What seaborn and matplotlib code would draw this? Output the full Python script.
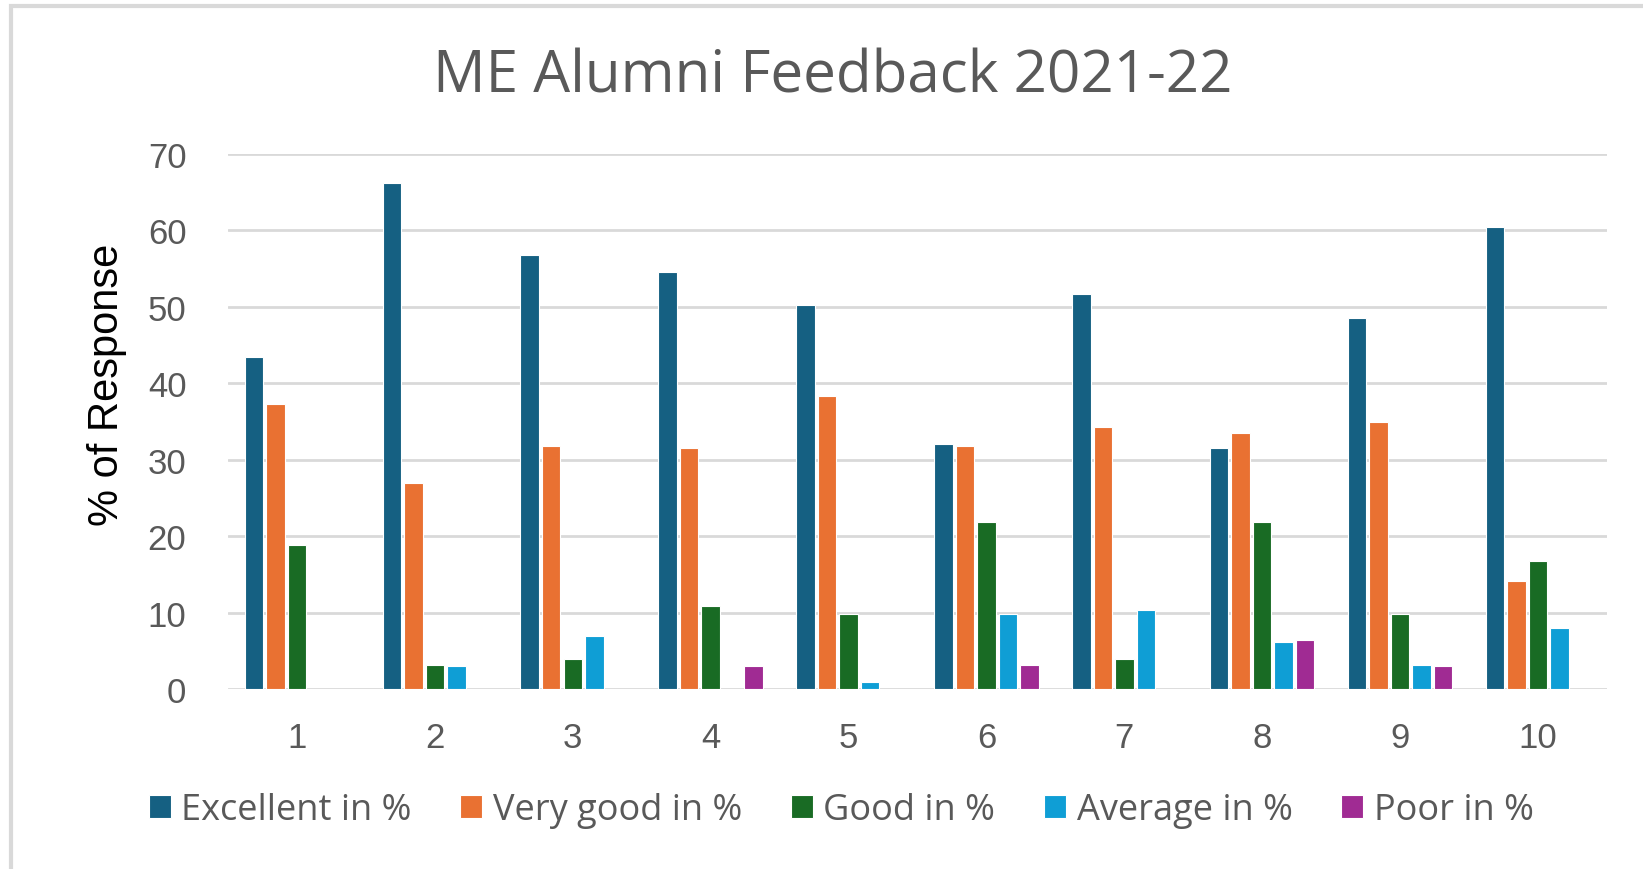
# ME alumni feedback grouped bars

import numpy as np
import pandas as pd
import matplotlib
matplotlib.use("Agg")
import matplotlib.pyplot as plt
import seaborn as sns

questions = [str(i) for i in range(1, 11)]
excellent = [43.4, 66.2, 56.8, 54.5, 50.2, 32.0, 51.7, 31.5, 48.5, 60.4]
very_good = [37.3, 26.9, 31.8, 31.5, 38.3, 31.8, 34.3, 33.5, 34.9, 14.1]
good = [18.8, 3.2, 3.9, 10.8, 9.8, 21.9, 3.9, 21.9, 9.8, 16.8]
average = [np.nan, 3.0, 7.0, np.nan, 0.9, 9.8, 10.3, 6.2, 3.2, 8.0]
poor = [np.nan, np.nan, np.nan, 3.0, np.nan, 3.2, np.nan, 6.4, 3.0, np.nan]

series_names = ["Excellent in %", "Very good in %", "Good in %", "Average in %", "Poor in %"]
series_colors = ["#156082", "#E97132", "#196B24", "#0F9ED5", "#A02B93"]

rows = []
for name, vals in zip(series_names, [excellent, very_good, good, average, poor]):
    for q, v in zip(questions, vals):
        rows.append({"Question": q, "Rating": name, "Value": v})
df = pd.DataFrame(rows)

sns.set_style("white")
plt.rcParams["font.family"] = ["Liberation Sans", "DejaVu Sans"]

fig = plt.figure(figsize=(16.43, 8.70), dpi=100)
ax = fig.add_axes([0.1388, 0.2069, 0.978 - 0.1388, 0.8218 - 0.2069])

sns.barplot(
    data=df, x="Question", y="Value", hue="Rating",
    order=questions, hue_order=series_names,
    palette=dict(zip(series_names, series_colors)), saturation=1,
    width=0.78, gap=0.14, errorbar=None,
    edgecolor="white", linewidth=0.8, ax=ax, zorder=3,
)

ax.set_ylim(0, 70)
ax.set_yticks(range(0, 71, 10))
ax.set_xlim(-0.5, 9.5)
ax.grid(axis="y", color="#d9d9d9", linewidth=2, zorder=0)
ax.set_axisbelow(True)
for s in ax.spines.values():
    s.set_visible(False)
ax.tick_params(axis="y", length=0, pad=30, labelsize=25, labelcolor="#595959")
ax.tick_params(axis="x", length=0, pad=23, labelsize=25, labelcolor="#595959")
ax.set_xlabel("")
ax.set_ylabel("% of Response", fontsize=30, color="black")
ax.yaxis.set_label_coords(-0.073, 0.57)

handles, labels = ax.get_legend_handles_labels()
ax.get_legend().remove()
fig.legend(
    handles, labels, loc="center", bbox_to_anchor=(0.512, 0.068), ncol=5,
    frameon=False, prop={"family": "Open Sans", "size": 26}, labelcolor="#595959",
    handlelength=0.6, handleheight=0.6, handletextpad=0.3, columnspacing=1.35,
)

fig.text(0.507, 0.911, "ME Alumni Feedback 2021-22", ha="center", va="center",
         fontsize=42, color="#595959", family="Open Sans")

# light outer chart frame
fig.patches.append(plt.Rectangle((0.0065, -0.05), 1.05, 1.042, transform=fig.transFigure,
                                 fill=False, edgecolor="#d9d9d9", linewidth=3, zorder=0))

fig.savefig("out.png", dpi=100, facecolor="white")
